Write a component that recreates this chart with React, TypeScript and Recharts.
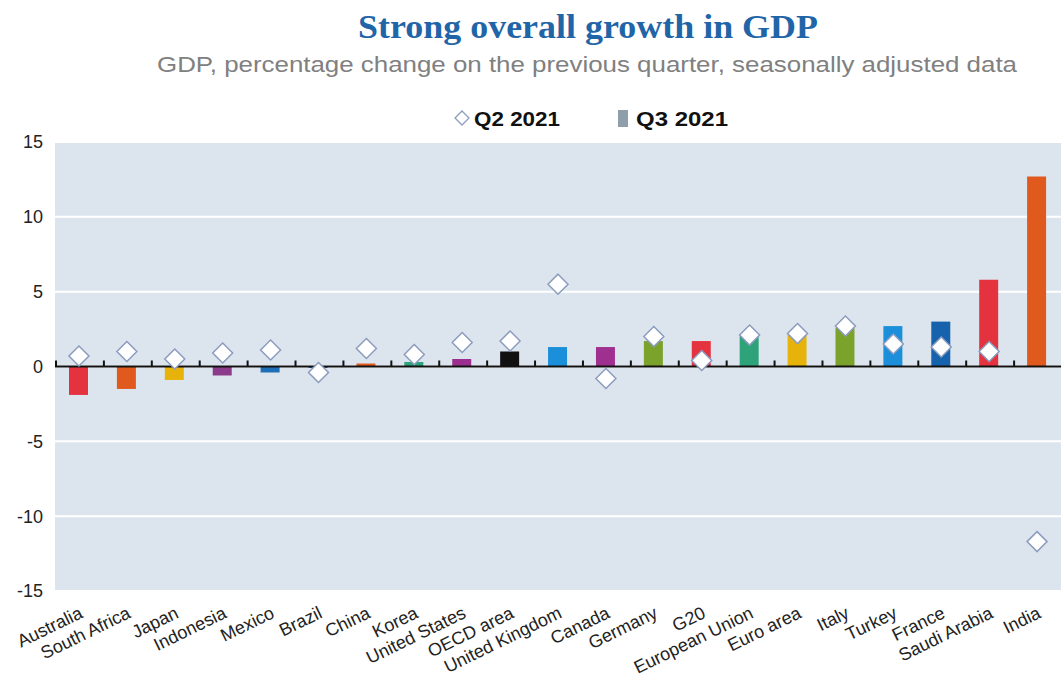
import React from 'react';
import {
  ComposedChart, Bar, Line, XAxis, YAxis, CartesianGrid, ReferenceLine, Cell,
} from 'recharts';

// GDP growth, q-o-q, seasonally adjusted (OECD, Q2 / Q3 2021)
const countries = [
  'Australia', 'South Africa', 'Japan', 'Indonesia', 'Mexico', 'Brazil', 'China',
  'Korea', 'United States', 'OECD area', 'United Kingdom', 'Canada', 'Germany',
  'G20', 'European Union', 'Euro area', 'Italy', 'Turkey', 'France',
  'Saudi Arabia', 'India',
];
const q3Values = [
  -1.9, -1.5, -0.9, -0.6, -0.4, -0.1, 0.2, 0.3, 0.5, 1.0, 1.3, 1.3, 1.7,
  1.7, 2.1, 2.2, 2.6, 2.7, 3.0, 5.8, 12.7,
];
const q2Values = [
  0.7, 1.0, 0.5, 0.9, 1.1, -0.4, 1.2, 0.8, 1.6, 1.7, 5.5, -0.8, 2.0,
  0.4, 2.1, 2.2, 2.7, 1.5, 1.3, 1.0, -11.7,
];
const barColors = [
  '#e5323f', '#e05a1d', '#e7b30a', '#8c3a8a', '#1f6fb6', '#1f6fb6', '#e05a1d',
  '#2ea37a', '#9b2f8f', '#111111', '#1b8fd9', '#a0308f', '#7ba22b',
  '#e5323f', '#2ea37a', '#e7b30a', '#7ba22b', '#1b8fd9', '#1662ad',
  '#e5323f', '#e05a1d',
];
const Y_MIN = -15;
const Y_MAX = 15;
const yTicks = [-15, -10, -5, 0, 5, 10, 15];

const data = countries.map((name, i) => ({
  name,
  q3: q3Values[i],
  q2: q2Values[i],
}));

const FONT = 'Arial, "Liberation Sans", sans-serif';

// chart frame
const CHART_W = 1061;
const CHART_H = 675;
const TOP = 142;
const Y_AXIS_W = 55;
const X_AXIS_H = 84;
const PLOT_H = CHART_H - TOP - X_AXIS_H;
const ZERO_Y = TOP + (PLOT_H * Y_MAX) / (Y_MAX - Y_MIN);
const BAND = (CHART_W - Y_AXIS_W) / countries.length;

function Diamond(props: any) {
  const { cx, cy } = props;
  if (cx == null || cy == null) return null;
  const r = 10;
  return (
    <polygon
      points={`${cx},${cy - r} ${cx + r},${cy} ${cx},${cy + r} ${cx - r},${cy}`}
      fill="#ffffff"
      stroke="#8b9cbe"
      strokeWidth={1.5}
    />
  );
}

function CountryTick(props: any) {
  const { x, y, payload } = props;
  const tx = x + 5;
  const ty = y + 18;
  return (
    <text
      x={tx}
      y={ty}
      textAnchor="end"
      transform={`rotate(-26, ${tx}, ${ty})`}
      fontFamily={FONT}
      fontSize={18}
      fill="#222"
    >
      {payload.value}
    </text>
  );
}

export default function App() {
  return (
    <div style={{ position: 'absolute', left: 0, top: 0, width: CHART_W, height: CHART_H, background: '#fff' }}>
      <svg width={CHART_W} height={140} style={{ position: 'absolute', left: 0, top: 0 }}>
        <text
          x={358}
          y={38}
          textLength={460}
          lengthAdjust="spacingAndGlyphs"
          fontFamily='"Liberation Serif", "Times New Roman", serif'
          fontWeight="bold"
          fontSize={33}
          fill="#1f65a8"
        >
          Strong overall growth in GDP
        </text>
        <text
          x={157}
          y={72}
          textLength={860}
          lengthAdjust="spacingAndGlyphs"
          fontFamily={FONT}
          fontSize={22}
          fill="#808080"
        >
          GDP, percentage change on the previous quarter, seasonally adjusted data
        </text>
        <polygon points="462,111 469,118 462,125 455,118" fill="#fff" stroke="#8b9cbe" strokeWidth={1.3} />
        <text x={474} y={126} textLength={86} lengthAdjust="spacingAndGlyphs"
          fontFamily={FONT} fontWeight="bold" fontSize={21} fill="#111">
          Q2 2021
        </text>
        <rect x={618} y={110} width={10} height={17} fill="#8e9eab" />
        <text x={636} y={126} textLength={92} lengthAdjust="spacingAndGlyphs"
          fontFamily={FONT} fontWeight="bold" fontSize={21} fill="#111">
          Q3 2021
        </text>
      </svg>

      <ComposedChart
        width={CHART_W}
        height={CHART_H}
        data={data}
        margin={{ top: TOP, right: 0, bottom: 0, left: 0 }}
        barCategoryGap={0}
      >
        <CartesianGrid vertical={false} stroke="#ffffff" strokeWidth={2} fill="#dce5ee" />
        <XAxis
          dataKey="name"
          interval={0}
          height={X_AXIS_H}
          axisLine={false}
          tickLine={false}
          tick={<CountryTick />}
        />
        <YAxis
          width={Y_AXIS_W}
          domain={[Y_MIN, Y_MAX]}
          ticks={yTicks}
          axisLine={false}
          tickLine={false}
          tickSize={0}
          tickMargin={12}
          tick={{ fontSize: 18, fill: '#222', fontFamily: FONT }}
        />
        <ReferenceLine y={0} stroke="#111" strokeWidth={2} />
        <Bar dataKey="q3" name="Q3 2021" barSize={19} isAnimationActive={false}>
          {data.map((d, i) => (
            <Cell key={d.name} fill={barColors[i]} />
          ))}
        </Bar>
        <Line
          dataKey="q2"
          name="Q2 2021"
          stroke="none"
          dot={<Diamond />}
          activeDot={false}
          isAnimationActive={false}
        />
      </ComposedChart>

      {/* category-boundary ticks on the zero line */}
      <svg
        width={CHART_W}
        height={CHART_H}
        style={{ position: 'absolute', left: 0, top: 0, pointerEvents: 'none' }}
      >
        {countries.map((c, i) => {
          const bx = Y_AXIS_W + i * BAND + 1;
          return (
            <line key={c} x1={bx} x2={bx} y1={ZERO_Y} y2={ZERO_Y - 6} stroke="#111" strokeWidth={2} />
          );
        })}
      </svg>
    </div>
  );
}
